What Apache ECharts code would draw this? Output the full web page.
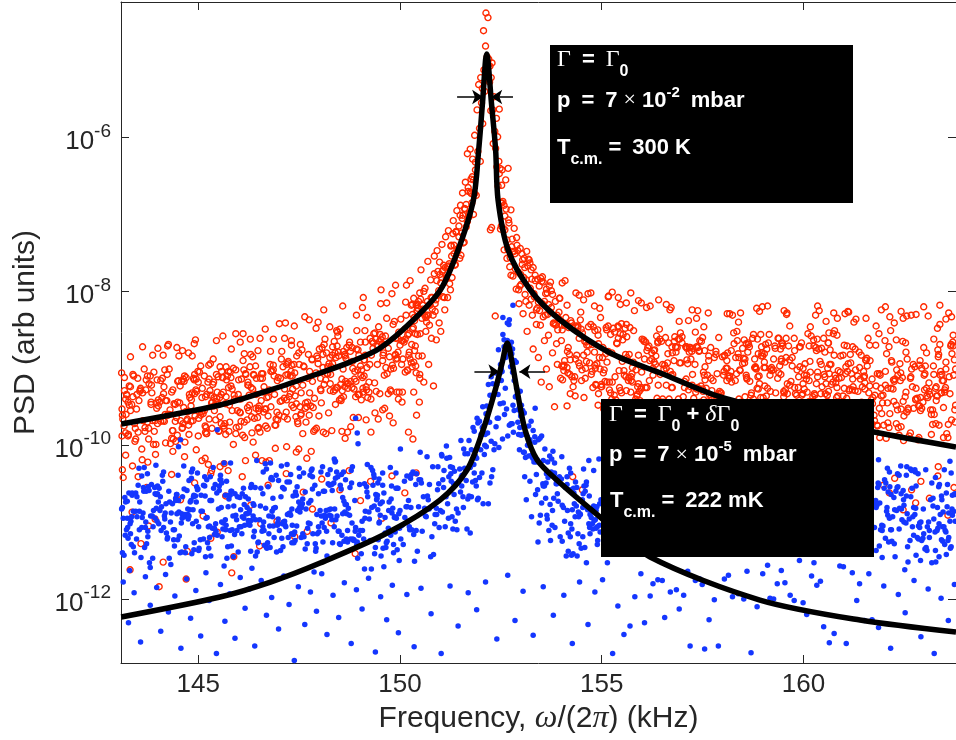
<!DOCTYPE html>
<html><head><meta charset="utf-8">
<script src="https://cdn.jsdelivr.net/npm/echarts@6/dist/echarts.min.js"></script>
<style>html,body{margin:0;padding:0;background:#fff}#c{width:956px;height:740px}</style>
</head><body><div id="c"></div>
<script>
// ---------------- DATA ----------------
const freqRange = [143.085, 163.78];          // kHz
const psdExpRange = [-12.832, -4.237];        // log10 PSD at bottom / top of plot
const yTickExps = [-12, -10, -8, -6];
const xTickLabels = [145, 150, 155, 160];

// Fitted curves: [frequency kHz, log10 PSD]
const redFit = [[143.09,-9.724],[145.54,-9.477],[146.79,-9.28],[148.02,-9.061],[148.76,-8.92],[149.51,-8.736],[150.33,-8.372],[151.00,-7.982],[151.44,-7.462],[151.82,-6.810],[151.95,-6.161],[152.05,-5.511],[152.12,-4.991],[152.15,-4.913],[152.18,-4.991],[152.26,-5.511],[152.37,-6.161],[152.43,-6.810],[152.68,-7.462],[153.23,-7.982],[153.97,-8.372],[155.21,-8.801],[156.45,-9.061],[157.94,-9.373],[159.90,-9.62],[161.75,-9.828],[163.78,-10.023]];
const blueFit = [[143.09,-12.234],[145.54,-11.974],[146.79,-11.78],[148.02,-11.532],[149.68,-11.142],[150.99,-10.713],[151.66,-10.322],[152.06,-9.802],[152.36,-9.282],[152.53,-8.931],[152.66,-8.671],[152.78,-8.931],[152.90,-9.282],[153.10,-9.802],[153.40,-10.192],[153.97,-10.492],[154.96,-10.934],[156.20,-11.454],[158.92,-12.013],[161.40,-12.273],[163.78,-12.429]];

// FWHM arrows: [fromFreq, toFreq, log10 PSD]
const fwhmArrows = [[151.415,152.06,-5.472],[152.80,152.26,-5.472],[151.844,152.464,-9.044],[153.596,152.959,-9.044]];

// p = 7e-2 mbar (red circles): [frequency kHz, log10 PSD]
const redLeft = [[143.10,-9.06],[143.11,-9.53],[143.12,-9.61],[143.13,-9.66],[143.16,-9.75],[143.17,-9.29],[143.20,-9.40],[143.21,-9.60],[143.22,-9.34],[143.23,-9.35],[143.26,-9.44],[143.27,-9.86],[143.29,-9.23],[143.32,-9.24],[143.35,-9.47],[143.38,-9.37],[143.40,-9.10],[143.42,-9.72],[143.43,-9.95],[143.45,-9.92],[143.47,-9.53],[143.48,-9.34],[143.51,-9.83],[143.53,-9.42],[143.55,-9.30],[143.57,-9.26],[143.60,-10.05],[143.63,-9.68],[143.66,-9.01],[143.68,-9.82],[143.70,-9.28],[143.71,-9.15],[143.74,-9.10],[143.77,-9.92],[143.78,-9.20],[143.81,-9.10],[143.83,-9.47],[143.84,-9.22],[143.85,-9.32],[143.87,-9.68],[143.90,-9.05],[143.91,-9.82],[143.93,-9.68],[143.96,-9.45],[143.97,-9.52],[143.98,-9.15],[143.99,-9.72],[144.01,-9.41],[144.04,-9.44],[144.07,-9.16],[144.10,-9.38],[144.11,-9.13],[144.14,-9.33],[144.15,-9.24],[144.17,-9.02],[144.18,-9.60],[144.19,-9.97],[144.22,-9.42],[144.23,-9.08],[144.25,-9.61],[144.28,-9.60],[144.30,-9.54],[144.31,-9.98],[144.34,-9.91],[144.36,-9.81],[144.37,-9.28],[144.38,-9.92],[144.40,-9.46],[144.43,-9.69],[144.44,-9.95],[144.46,-9.64],[144.48,-9.87],[144.49,-9.44],[144.51,-9.16],[144.54,-9.45],[144.56,-9.68],[144.59,-9.17],[144.60,-9.78],[144.62,-9.72],[144.63,-9.14],[144.65,-9.17],[144.66,-9.10],[144.67,-9.96],[144.70,-9.12],[144.72,-9.68],[144.75,-9.56],[144.77,-9.86],[144.78,-9.34],[144.79,-9.38],[144.82,-9.49],[144.83,-9.41],[144.85,-9.32],[144.87,-9.68],[144.90,-9.15],[144.91,-9.33],[144.92,-9.62],[144.95,-9.14],[144.96,-9.30],[144.99,-9.04],
[145.00,-9.18],[145.01,-9.65],[145.03,-9.57],[145.06,-8.97],[145.08,-9.57],[145.10,-9.26],[145.12,-9.59],[145.15,-9.10],[145.17,-9.75],[145.18,-9.37],[145.19,-9.77],[145.20,-9.85],[145.21,-9.85],[145.24,-9.18],[145.26,-8.96],[145.27,-9.66],[145.29,-9.29],[145.31,-9.35],[145.34,-9.78],[145.35,-9.44],[145.36,-9.21],[145.37,-8.88],[145.38,-9.18],[145.39,-9.38],[145.40,-9.55],[145.43,-9.67],[145.44,-9.43],[145.46,-9.39],[145.47,-9.31],[145.49,-9.11],[145.51,-9.82],[145.52,-9.81],[145.53,-9.38],[145.54,-9.63],[145.57,-9.34],[145.58,-9.04],[145.61,-9.12],[145.62,-9.31],[145.64,-9.78],[145.67,-9.46],[145.68,-9.86],[145.69,-8.98],[145.70,-9.15],[145.72,-9.10],[145.75,-9.25],[145.76,-9.82],[145.77,-9.48],[145.78,-9.70],[145.79,-9.05],[145.81,-9.12],[145.84,-9.55],[145.87,-9.00],[145.89,-9.35],[145.90,-9.40],[145.93,-9.85],[145.94,-9.77],[145.97,-9.55],[146.00,-9.15],[146.01,-9.76],[146.03,-9.57],[146.04,-9.58],[146.06,-9.69],[146.07,-9.14],[146.10,-9.87],[146.13,-9.02],[146.14,-8.81],[146.15,-9.90],[146.18,-9.08],[146.21,-9.67],[146.22,-9.51],[146.23,-9.18],[146.24,-9.22],[146.25,-9.55],[146.27,-9.48],[146.28,-8.98],[146.30,-8.82],[146.31,-9.25],[146.33,-9.84],[146.35,-9.27],[146.37,-9.08],[146.39,-9.65],[146.42,-8.97],[146.43,-9.52],[146.44,-9.13],[146.47,-9.64],[146.48,-9.78],[146.49,-9.52],[146.50,-9.55],[146.51,-9.49],[146.54,-9.13],[146.57,-9.07],[146.59,-9.13],[146.60,-9.07],[146.62,-9.57],[146.63,-9.24],[146.65,-9.53],[146.67,-9.75],[146.70,-9.38],[146.73,-9.62],[146.76,-9.28],[146.78,-8.95],[146.79,-8.78],[146.80,-9.50],[146.83,-9.04],[146.86,-9.02],[146.88,-9.10],[146.89,-9.34],[146.90,-9.74],[146.93,-9.66],[146.95,-9.57],[146.96,-9.16],[146.97,-9.67],
[147.00,-9.61],[147.03,-9.43],[147.06,-8.88],[147.07,-9.42],[147.10,-8.98],[147.13,-9.39],[147.14,-9.27],[147.17,-9.09],[147.18,-9.57],[147.19,-8.95],[147.21,-9.66],[147.22,-9.08],[147.23,-8.91],[147.25,-9.37],[147.28,-9.33],[147.30,-9.04],[147.31,-8.70],[147.32,-9.48],[147.33,-9.10],[147.36,-9.51],[147.39,-9.06],[147.42,-9.63],[147.43,-9.23],[147.44,-8.84],[147.47,-9.72],[147.49,-8.80],[147.50,-8.95],[147.53,-8.69],[147.54,-9.61],[147.55,-9.59],[147.57,-8.76],[147.59,-9.22],[147.62,-8.98],[147.65,-9.52],[147.66,-9.45],[147.69,-9.50],[147.71,-9.44],[147.72,-9.13],[147.75,-9.61],[147.76,-9.32],[147.79,-9.49],[147.82,-8.88],[147.83,-9.17],[147.86,-9.82],[147.89,-9.80],[147.92,-9.06],[147.93,-9.78],[147.96,-8.87],[147.99,-9.62],
[148.00,-8.75],[148.03,-9.27],[148.04,-9.29],[148.05,-9.45],[148.07,-8.73],[148.09,-8.99],[148.12,-9.21],[148.14,-8.62],[148.16,-9.15],[148.19,-9.07],[148.21,-8.98],[148.23,-9.58],[148.26,-8.86],[148.27,-9.20],[148.28,-9.08],[148.29,-8.98],[148.32,-8.83],[148.33,-8.94],[148.35,-9.30],[148.37,-8.65],[148.39,-8.80],[148.40,-9.47],[148.41,-8.86],[148.44,-8.71],[148.45,-8.53],[148.46,-8.58],[148.47,-8.79],[148.50,-9.41],[148.53,-9.21],[148.54,-9.42],[148.56,-9.14],[148.59,-9.01],[148.60,-8.78],[148.63,-8.82],[148.64,-8.84],[148.65,-9.17],[148.68,-8.73],[148.71,-9.26],[148.74,-8.70],[148.77,-8.78],[148.78,-9.17],[148.81,-8.73],[148.82,-8.91],[148.83,-9.00],[148.86,-9.27],[148.88,-9.04],[148.91,-9.17],[148.92,-8.75],[148.95,-9.02],[148.96,-9.34],[148.97,-9.34],[148.98,-8.83],[148.99,-9.34],
[149.02,-8.97],[149.03,-9.09],[149.04,-9.41],[149.07,-9.12],[149.08,-9.31],[149.11,-9.10],[149.12,-8.89],[149.13,-8.51],[149.14,-8.66],[149.16,-9.24],[149.18,-8.99],[149.19,-8.34],[149.20,-9.38],[149.23,-9.31],[149.25,-8.95],[149.26,-8.61],[149.28,-9.40],[149.31,-8.65],[149.33,-8.74],[149.34,-8.67],[149.37,-9.19],[149.40,-8.62],[149.41,-9.30],[149.44,-8.95],[149.47,-8.46],[149.49,-8.65],[149.51,-8.56],[149.52,-8.62],[149.55,-8.69],[149.56,-8.59],[149.57,-8.90],[149.58,-8.83],[149.61,-9.09],[149.64,-8.58],[149.67,-8.35],[149.68,-9.07],[149.71,-9.33],[149.74,-8.85],[149.76,-9.28],[149.78,-9.30],[149.81,-8.96],[149.84,-9.00],[149.86,-8.39],[149.88,-8.83],[149.89,-8.61],[149.90,-8.88],[149.93,-8.87],[149.95,-8.79],[149.96,-8.62],[149.97,-8.53],
[150.00,-8.70],[150.02,-8.36],[150.04,-8.64],[150.07,-8.64],[150.10,-8.66],[150.12,-8.49],[150.13,-9.05],[150.14,-8.14],[150.15,-8.31],[150.18,-9.02],[150.19,-9.03],[150.22,-8.55],[150.23,-8.79],[150.25,-8.88],[150.28,-8.18],[150.29,-8.69],[150.30,-8.98],[150.31,-8.49],[150.33,-8.47],[150.35,-8.34],[150.36,-8.77],[150.38,-8.71],[150.39,-8.97],[150.42,-8.25],[150.43,-8.56],[150.46,-8.84],[150.49,-9.08]];
const redPeak = [[150.50,-8.55],[150.52,-7.72],[150.55,-8.84],[150.57,-8.18],[150.59,-9.18],[150.62,-7.96],[150.64,-8.52],[150.66,-8.31],[150.69,-7.61],[150.71,-8.95],[150.73,-8.44],[150.76,-7.85],[150.78,-8.61],[150.80,-8.08],[150.83,-9.23],[150.85,-7.54],[150.87,-8.26],[150.90,-8.63],[150.92,-7.47],[150.94,-8.05],[150.97,-8.41],[150.99,-7.78],[151.01,-8.52],[151.04,-7.39],[151.06,-8.07],[151.08,-7.66],[151.11,-8.24],[151.13,-7.29],[151.15,-7.82],[151.18,-8.08],[151.20,-7.21],[151.22,-7.64],[151.25,-7.98],[151.27,-7.40],[151.29,-7.82],[151.32,-7.08],[151.34,-7.51],[151.36,-7.66],[151.39,-7.23],[151.41,-6.95],[151.43,-7.48],[151.46,-7.15],[151.48,-7.57],[151.50,-6.88],[151.53,-7.24],[151.55,-6.72],[151.57,-7.37],[151.60,-6.92],[151.62,-6.58],[151.64,-7.16],[151.67,-6.21],[151.69,-6.70],[151.71,-7.00],[151.74,-6.15],[151.76,-6.54],[151.78,-6.85],
[151.80,-6.28],[151.82,-6.55],[151.85,-5.97],[151.87,-6.42],[151.89,-6.75],[151.91,-5.64],[151.93,-6.18],[151.95,-5.31],[151.97,-5.88],[151.99,-6.31],[152.00,-5.22],[152.02,-5.55],[152.04,-5.36],[152.05,-5.82],[152.07,-4.61],[152.08,-5.12],[152.10,-5.40],[152.12,-4.81],[152.13,-4.38],[152.14,-5.13],[152.16,-4.95],[152.18,-4.44],[152.19,-5.06],[152.20,-4.98],[152.22,-5.28],[152.23,-5.07],[152.24,-7.20],[152.25,-5.65],[152.26,-5.22],[152.27,-7.17],[152.28,-5.03],[152.30,-5.64],[152.31,-6.08],[152.33,-5.47],[152.35,-5.92],[152.36,-8.32],[152.37,-6.14],[152.39,-5.75],[152.40,-6.38],[152.42,-5.99],[152.43,-6.63],[152.45,-6.31],[152.46,-5.63],[152.48,-6.40],[152.50,-6.85],[152.52,-6.62],[152.53,-6.42],[152.56,-7.18],[152.58,-6.88],[152.60,-7.20],[152.62,-6.55],[152.65,-7.33],[152.68,-6.40],[152.70,-7.11],[152.73,-7.56],[152.75,-6.94],[152.78,-7.32],[152.80,-7.80],[152.83,-7.18],[152.85,-7.51],[152.88,-7.97],[152.90,-7.40],[152.93,-7.75],[152.95,-8.16],[152.98,-7.44],[153.00,-7.91],[153.03,-7.65],[153.05,-8.29],[153.08,-7.57],[153.10,-8.04],[153.13,-7.85],[153.15,-8.52],[153.18,-7.58],[153.20,-8.18],[153.23,-7.96],[153.25,-7.72],[153.28,-8.31],[153.30,-8.75],[153.33,-8.07],[153.35,-7.79],[153.38,-8.43],[153.40,-8.22],[153.43,-8.86],[153.45,-7.93],[153.48,-8.44],[153.50,-9.18],[153.53,-8.16],[153.55,-7.88],[153.58,-8.64],[153.60,-8.31],[153.63,-9.01],[153.65,-8.02],[153.68,-8.57],[153.70,-9.24],[153.73,-8.27],[153.75,-7.99],[153.78,-8.80],[153.80,-8.42],[153.83,-9.50],[153.85,-8.13],[153.88,-8.68],[153.90,-8.95],[153.93,-8.35],[153.95,-8.09],[153.98,-9.13]];
const redArms = [[150.31,-8.17],[150.34,-8.09],[150.36,-8.38],[150.38,-8.55],[150.40,-8.18],[150.42,-8.17],[150.44,-8.22],[150.46,-8.13],[150.49,-8.02],[150.51,-8.10],[150.54,-8.35],[150.56,-8.23],[150.59,-8.00],[150.61,-8.31],[150.64,-8.34],[150.66,-8.40],[150.68,-8.13],[150.70,-8.31],[150.72,-8.18],[150.75,-8.18],[150.77,-8.08],[150.80,-8.23],[150.82,-8.31],[150.85,-7.77],[150.87,-8.16],[150.89,-8.11],[150.91,-7.86],[150.94,-7.74],[150.96,-7.99],[150.98,-7.62],[151.01,-7.89],[151.03,-7.82],[151.05,-7.74],[151.07,-7.72],[151.10,-8.08],[151.12,-7.69],[151.15,-7.83],[151.18,-7.68],[151.21,-7.67],[151.23,-7.90],[151.26,-7.41],[151.28,-7.54],[151.31,-7.25],[151.34,-7.40],[151.37,-7.65],[151.39,-7.22],[151.41,-7.46],[151.44,-7.44],[151.46,-7.29],[151.49,-7.01],[151.51,-7.53],[151.54,-7.05],[151.56,-7.01],[151.59,-7.36],[151.61,-6.93],[151.64,-6.87],[151.67,-7.09],[151.69,-6.65],[151.71,-7.03],[151.74,-6.71],[151.77,-6.73],[151.79,-6.51],[151.82,-7.00],[151.85,-6.73],[151.87,-6.32],
[152.46,-6.47],[152.49,-7.19],[152.51,-7.15],[152.53,-6.85],[152.55,-6.83],[152.58,-7.46],[152.60,-7.02],[152.63,-6.93],[152.65,-7.57],[152.67,-7.45],[152.69,-7.07],[152.72,-7.68],[152.75,-7.79],[152.77,-7.42],[152.80,-7.48],[152.83,-7.48],[152.86,-7.71],[152.89,-7.30],[152.92,-7.47],[152.94,-7.98],[152.97,-7.93],[152.99,-7.78],[153.02,-7.51],[153.04,-7.59],[153.07,-7.82],[153.09,-7.69],[153.12,-8.13],[153.14,-7.48],[153.17,-7.67],[153.20,-7.59],[153.22,-7.63],[153.25,-8.10],[153.27,-7.84],[153.30,-7.69],[153.32,-8.03],[153.35,-7.86],[153.38,-8.24],[153.41,-7.84],[153.43,-8.14],[153.46,-8.25],[153.49,-7.83],[153.51,-7.87],[153.53,-7.81],[153.55,-8.33],[153.58,-8.13],[153.61,-8.03],[153.63,-7.97],[153.66,-8.30],[153.68,-8.17],[153.70,-7.93],[153.73,-7.88],[153.75,-8.21],[153.78,-8.04],[153.81,-8.41],[153.84,-8.42],[153.86,-8.44],[153.89,-8.31],[153.91,-8.50],[153.94,-8.27],[153.96,-8.09]];
const redRight = [[154.00,-8.64],[154.01,-8.97],[154.02,-8.44],[154.03,-9.15],[154.06,-9.03],[154.07,-8.96],[154.08,-8.44],[154.10,-8.42],[154.11,-8.34],[154.14,-8.18],[154.15,-8.78],[154.16,-9.06],[154.18,-8.47],[154.21,-9.08],[154.22,-8.89],[154.23,-8.38],[154.25,-8.41],[154.28,-8.47],[154.31,-9.16],[154.33,-9.11],[154.35,-8.45],[154.38,-8.83],[154.41,-8.47],[154.43,-8.93],[154.44,-8.61],[154.45,-8.97],[154.48,-8.27],[154.49,-8.49],[154.51,-9.02],[154.52,-8.54],[154.55,-8.83],[154.58,-8.65],[154.59,-9.13],[154.60,-9.00],[154.61,-8.66],[154.63,-8.70],[154.64,-8.79],[154.67,-8.46],[154.70,-8.93],[154.73,-8.43],[154.76,-9.04],[154.78,-9.25],[154.79,-8.46],[154.82,-8.79],[154.83,-8.96],[154.84,-9.00],[154.85,-9.21],[154.88,-8.94],[154.90,-8.50],[154.91,-8.57],[154.92,-8.68],[154.94,-8.86],[154.95,-8.22],[154.96,-9.01],[154.97,-8.34],[154.99,-9.21],
[155.00,-9.24],[155.02,-8.86],[155.03,-8.73],[155.06,-9.02],[155.08,-9.17],[155.11,-8.47],[155.12,-8.50],[155.13,-9.18],[155.16,-8.78],[155.19,-9.18],[155.22,-8.56],[155.25,-8.80],[155.26,-9.18],[155.29,-8.48],[155.32,-8.53],[155.33,-9.11],[155.35,-9.41],[155.38,-8.68],[155.41,-8.61],[155.42,-8.46],[155.43,-9.03],[155.44,-9.25],[155.46,-9.29],[155.49,-8.42],[155.51,-8.91],[155.53,-8.56],[155.56,-9.09],[155.59,-8.82],[155.60,-9.11],[155.61,-8.43],[155.62,-8.59],[155.63,-8.86],[155.66,-9.16],[155.68,-8.82],[155.70,-8.47],[155.72,-9.31],[155.73,-9.11],[155.75,-9.07],[155.76,-9.18],[155.78,-8.92],[155.81,-9.44],[155.84,-9.40],[155.87,-9.36],[155.89,-9.24],[155.91,-8.83],[155.93,-9.30],[155.95,-9.42],[155.98,-9.25],[155.99,-9.05],
[156.01,-9.46],[156.04,-8.63],[156.05,-8.65],[156.08,-9.25],[156.09,-8.66],[156.12,-9.25],[156.14,-8.73],[156.17,-8.71],[156.19,-8.90],[156.21,-9.57],[156.24,-8.80],[156.27,-9.09],[156.29,-8.77],[156.30,-8.92],[156.31,-8.76],[156.34,-8.84],[156.37,-9.39],[156.39,-8.65],[156.40,-9.22],[156.43,-8.49],[156.44,-8.62],[156.45,-9.08],[156.48,-9.44],[156.51,-8.95],[156.54,-9.01],[156.56,-8.96],[156.58,-8.60],[156.60,-9.22],[156.61,-9.51],[156.64,-8.81],[156.67,-9.40],[156.70,-9.04],[156.73,-9.25],[156.74,-8.72],[156.75,-8.80],[156.76,-9.08],[156.79,-8.90],[156.80,-8.65],[156.83,-8.72],[156.84,-8.79],[156.87,-8.73],[156.90,-8.62],[156.93,-8.93],[156.95,-8.54],[156.96,-8.93],[156.99,-8.59],[157.02,-9.37],[157.05,-9.25],[157.08,-8.72],[157.09,-9.14],[157.10,-8.72],[157.11,-8.89],[157.13,-8.94],[157.15,-9.28],[157.17,-8.79],[157.19,-8.73],[157.20,-9.24],[157.21,-8.88],[157.24,-9.22],[157.25,-9.08],[157.28,-9.39],[157.31,-8.95],[157.33,-9.31],[157.35,-8.72],[157.36,-9.27],[157.38,-9.25],[157.41,-8.78],[157.42,-8.77],[157.43,-8.64],[157.46,-9.23],[157.47,-8.65],[157.48,-9.51],[157.50,-8.60],[157.51,-9.30],[157.52,-9.05],[157.53,-8.46],[157.54,-9.09],[157.55,-8.77],[157.56,-9.15],[157.59,-9.44],[157.62,-9.09],[157.65,-8.84],[157.67,-9.34],[157.70,-8.73],[157.71,-9.38],[157.73,-9.29],[157.76,-9.16],[157.79,-8.86],[157.80,-9.45],[157.83,-8.78],[157.86,-9.07],[157.89,-9.33],[157.90,-8.60],[157.92,-9.30],[157.94,-9.32],[157.96,-9.32],[157.99,-8.85],
[158.02,-9.09],[158.03,-9.04],[158.05,-8.83],[158.08,-9.00],[158.10,-8.90],[158.11,-9.00],[158.12,-8.80],[158.14,-9.60],[158.17,-9.10],[158.20,-9.04],[158.21,-8.77],[158.22,-9.18],[158.24,-9.44],[158.27,-8.54],[158.28,-9.61],[158.31,-9.16],[158.32,-8.86],[158.35,-8.52],[158.36,-8.64],[158.37,-9.47],[158.38,-8.81],[158.40,-8.86],[158.42,-9.02],[158.45,-9.44],[158.46,-9.50],[158.49,-8.74],[158.51,-8.87],[158.53,-8.63],[158.54,-8.93],[158.55,-9.37],[158.58,-8.68],[158.59,-9.12],[158.60,-9.14],[158.62,-8.79],[158.63,-8.67],[158.64,-8.69],[158.66,-8.72],[158.67,-9.17],[158.68,-9.52],[158.71,-9.32],[158.74,-8.61],[158.76,-9.40],[158.79,-8.99],[158.81,-8.98],[158.83,-9.01],[158.86,-8.62],[158.87,-9.11],[158.88,-9.27],[158.90,-9.10],[158.91,-9.20],[158.94,-8.56],[158.95,-8.84],[158.96,-8.72],[158.99,-8.84],[159.02,-8.99],[159.03,-8.92],[159.04,-9.23],[159.05,-8.99],[159.06,-8.69],[159.08,-9.36],[159.11,-9.26],[159.13,-8.67],[159.14,-9.53],[159.17,-9.09],[159.18,-9.30],[159.21,-8.99],[159.23,-9.54],[159.25,-9.02],[159.26,-8.88],[159.29,-8.71],[159.31,-9.32],[159.34,-9.57],[159.37,-8.61],[159.39,-8.61],[159.41,-8.97],[159.43,-8.75],[159.44,-9.08],[159.45,-8.91],[159.46,-8.67],[159.48,-8.68],[159.51,-9.30],[159.52,-9.32],[159.55,-9.28],[159.57,-8.86],[159.60,-9.33],[159.63,-8.71],[159.66,-9.22],[159.69,-9.17],[159.70,-9.45],[159.72,-8.97],[159.74,-9.58],[159.77,-8.61],[159.78,-8.77],[159.80,-9.33],[159.83,-9.35],[159.86,-9.47],[159.87,-9.25],[159.88,-9.11],[159.91,-8.98],[159.92,-8.72],[159.95,-8.67],[159.98,-9.33],[159.99,-9.00],
[160.02,-9.09],[160.04,-8.94],[160.07,-9.14],[160.08,-9.09],[160.09,-9.31],[160.11,-8.55],[160.12,-9.44],[160.14,-8.71],[160.15,-9.43],[160.16,-8.91],[160.19,-8.58],[160.21,-9.48],[160.23,-9.43],[160.25,-8.63],[160.27,-9.33],[160.28,-9.35],[160.31,-8.73],[160.32,-9.20],[160.34,-8.62],[160.35,-9.11],[160.38,-8.75],[160.41,-9.51],[160.43,-9.33],[160.44,-8.95],[160.45,-8.74],[160.46,-9.24],[160.48,-9.54],[160.51,-9.08],[160.53,-9.11],[160.54,-9.33],[160.56,-9.45],[160.59,-9.43],[160.60,-9.00],[160.61,-8.67],[160.62,-9.30],[160.63,-8.54],[160.64,-9.07],[160.65,-8.95],[160.66,-8.76],[160.69,-9.21],[160.72,-9.47],[160.73,-9.18],[160.75,-9.45],[160.76,-8.83],[160.78,-9.09],[160.80,-9.19],[160.82,-9.38],[160.83,-8.57],[160.85,-9.36],[160.88,-9.13],[160.91,-9.05],[160.94,-9.12],[160.95,-9.54],[160.98,-8.83],[161.01,-9.26],[161.04,-9.07],[161.05,-8.98],[161.08,-8.71],[161.09,-9.04],[161.11,-8.94],[161.14,-9.27],[161.16,-8.82],[161.17,-8.93],[161.18,-9.49],[161.21,-9.28],[161.22,-9.14],[161.23,-9.24],[161.26,-9.57],[161.28,-8.75],[161.29,-9.02],[161.32,-9.64],[161.35,-9.30],[161.38,-8.79],[161.39,-8.99],[161.41,-9.14],[161.43,-8.83],[161.44,-9.44],[161.47,-9.48],[161.50,-9.12],[161.51,-9.10],[161.52,-9.19],[161.54,-8.89],[161.57,-8.87],[161.58,-8.97],[161.60,-8.61],[161.62,-9.32],[161.64,-9.23],[161.65,-8.90],[161.68,-9.41],[161.71,-9.46],[161.72,-9.38],
[161.75,-9.61],[161.77,-9.35],[161.79,-8.70],[161.80,-9.23],[161.83,-9.07],[161.84,-9.75],[161.87,-8.55],[161.88,-9.07],[161.90,-9.09],[161.92,-9.26],[161.93,-9.36],[161.96,-9.45],[161.99,-9.74],[162.02,-8.64],[162.03,-9.22],[162.05,-9.91],[162.08,-9.45],[162.09,-9.71],[162.12,-8.72],[162.14,-9.59],[162.16,-8.51],[162.17,-9.26],[162.19,-8.92],[162.22,-9.27],[162.23,-9.15],[162.25,-9.17],[162.27,-9.14],[162.30,-9.48],[162.31,-9.02],[162.34,-9.09],[162.35,-9.77],[162.37,-9.87],[162.40,-9.16],[162.41,-9.06],[162.42,-9.53],[162.45,-9.12],[162.46,-8.65],[162.47,-9.43],[162.49,-9.62],[162.52,-9.37],[162.53,-8.67],[162.54,-8.79],[162.56,-9.57],[162.59,-9.52],[162.62,-9.88],[162.65,-9.13],[162.68,-9.01],[162.70,-9.24],[162.73,-9.52],[162.76,-8.98],[162.78,-9.40],[162.79,-9.26],[162.82,-9.39],[162.85,-9.49],[162.87,-8.96],[162.88,-9.49],[162.89,-8.90],[162.90,-9.38],[162.93,-9.52],[162.96,-9.44],[162.98,-8.73],[163.00,-9.28],[163.01,-9.07],[163.02,-8.97],[163.05,-8.80],[163.06,-9.36],[163.08,-9.38],[163.11,-9.19],[163.13,-9.34],[163.15,-9.54],[163.17,-9.86],[163.20,-9.54],[163.22,-8.97],[163.23,-8.62],[163.24,-9.60],[163.27,-9.26],[163.29,-9.24],[163.30,-9.36],[163.32,-9.36],[163.33,-8.76],[163.34,-8.85],[163.36,-9.74],[163.39,-9.09],[163.40,-9.04],[163.42,-9.32],[163.43,-9.08],[163.44,-9.16],[163.47,-9.51],[163.50,-9.28],[163.52,-9.25],[163.53,-8.92],[163.55,-9.85],[163.58,-9.90],[163.61,-9.11],[163.63,-9.33],[163.66,-8.69],[163.67,-9.67],[163.70,-8.66],[163.71,-8.57],[163.72,-9.09],[163.75,-9.54],[163.77,-9.48]];
const redExtra = [[143.11,-9.88],[143.17,-9.12],[143.20,-9.84],[143.26,-9.88],[143.29,-9.48],[143.32,-9.55],[143.38,-9.08],[143.44,-9.78],[143.50,-9.13],[143.56,-9.28],[143.62,-9.32],[143.68,-9.77],[143.74,-9.70],[143.77,-9.78],[143.83,-9.44],[143.89,-9.99],[143.95,-9.99],[144.01,-9.49],[144.07,-9.69],[144.13,-9.68],[144.16,-9.69],[144.19,-9.42],[144.25,-9.60],[144.28,-9.01],[144.34,-9.31],[144.37,-9.81],[144.43,-9.47],[144.49,-9.17],[144.55,-9.23],[144.61,-9.77],[144.64,-9.51],[144.70,-9.56],[144.73,-9.66],[144.76,-9.74],[144.82,-9.69],[144.88,-9.13],[144.91,-9.08],[144.94,-9.28],[145.00,-9.88],[145.03,-9.05],[145.06,-9.61],[145.09,-9.38],[145.15,-9.55],[145.18,-9.83],[145.21,-9.34],[145.27,-9.14],[145.30,-8.94],[145.33,-9.45],[145.39,-9.49],[145.45,-9.08],[145.51,-9.47],[145.54,-8.98],[145.57,-9.72],[145.60,-9.12],[145.63,-9.75],[145.66,-9.72],[145.69,-9.37],[145.75,-9.04],[145.81,-9.23],[145.84,-9.27],[145.87,-9.99],[145.93,-9.02],[145.99,-9.34],[146.05,-9.40],[146.11,-8.90],[146.14,-9.70],[146.17,-9.07],[146.23,-9.22],[146.26,-9.35],[146.32,-9.63],[146.35,-8.85],[146.38,-9.09],[146.44,-9.34],[146.50,-9.77],[146.53,-9.83],[146.56,-9.42],[146.62,-9.31],[146.68,-9.53],[146.71,-9.78],[146.74,-9.37],[146.80,-9.04],[146.86,-8.96],[146.92,-9.74],[146.98,-9.12],[147.04,-9.13],[147.07,-8.78],[147.13,-9.63],[147.19,-9.41],[147.22,-8.93],[147.28,-9.10],[147.31,-8.96],[147.34,-9.27],[147.37,-8.95],[147.40,-9.36],[147.43,-9.46],[147.46,-9.69],[147.52,-9.50],[147.55,-9.32],[147.61,-8.97],[147.67,-9.70],[147.73,-8.82],[147.76,-9.04],[147.82,-8.89],[147.85,-9.51],[147.88,-9.39],[147.94,-8.84],[147.97,-8.94],[148.03,-9.13],[148.09,-8.82],[148.12,-8.69],[148.18,-8.80],[148.21,-9.07],[148.24,-8.94],[148.27,-9.29],[148.33,-8.72],[148.39,-9.28],[148.42,-9.25],[148.45,-9.25],[148.48,-8.84],[148.51,-8.49],[148.54,-9.39],[148.57,-9.29],[148.60,-9.37],[148.63,-9.24],[148.66,-8.87],[148.69,-9.20],[148.72,-9.20],[148.75,-8.66],[148.81,-9.25],[148.87,-9.14],[148.90,-9.37],[148.93,-8.51],[148.96,-8.76],[149.02,-8.66],[149.05,-9.02],[149.08,-9.26],[149.11,-8.89],[149.14,-8.83],[149.17,-9.28],[149.23,-9.18],[149.29,-8.83],[149.35,-8.55],[149.38,-8.54],[149.44,-8.71],[149.50,-9.33],[149.56,-8.68],[149.59,-8.80],[149.65,-8.99],[149.71,-8.74],[149.77,-9.01],[149.83,-8.43],[149.89,-8.82],[149.92,-9.31],[149.98,-9.31],[150.04,-8.95],[150.07,-8.88],[150.13,-8.62],[150.19,-8.57],[150.22,-8.83],[150.28,-8.93],[150.31,-8.30],[150.34,-8.92],[150.40,-9.06],[150.43,-8.26],[150.49,-9.13],
[154.02,-8.50],[154.05,-8.98],[154.08,-8.90],[154.14,-8.99],[154.17,-8.73],[154.20,-8.82],[154.26,-9.11],[154.29,-9.24],[154.35,-8.88],[154.41,-8.45],[154.47,-8.37],[154.50,-9.16],[154.56,-9.38],[154.62,-8.91],[154.68,-8.70],[154.74,-9.08],[154.77,-8.69],[154.83,-8.51],[154.86,-9.22],[154.92,-9.33],[154.98,-9.24],[155.04,-9.06],[155.10,-8.81],[155.13,-8.92],[155.16,-8.45],[155.19,-9.28],[155.22,-9.32],[155.25,-9.40],[155.31,-9.35],[155.37,-8.67],[155.40,-8.45],[155.46,-8.55],[155.49,-9.32],[155.52,-8.63],[155.55,-9.03],[155.58,-8.48],[155.61,-9.29],[155.67,-9.12],[155.73,-9.16],[155.76,-8.99],[155.79,-8.51],[155.85,-9.02],[155.88,-9.34],[155.91,-9.20],[155.97,-9.27],[156.00,-8.62],[156.06,-8.88],[156.12,-8.77],[156.18,-9.16],[156.24,-8.88],[156.27,-9.00],[156.33,-8.95],[156.36,-8.58],[156.39,-8.67],[156.42,-9.43],[156.48,-8.65],[156.51,-9.40],[156.54,-9.44],[156.60,-9.00],[156.63,-8.93],[156.66,-8.67],[156.72,-9.09],[156.75,-9.25],[156.81,-8.59],[156.84,-8.72],[156.90,-9.40],[156.93,-8.62],[156.99,-8.67],[157.05,-9.17],[157.11,-8.74],[157.17,-8.73],[157.23,-8.78],[157.26,-8.74],[157.32,-8.53],[157.38,-8.73],[157.44,-9.44],[157.50,-9.27],[157.53,-9.41],[157.56,-8.98],[157.59,-9.26],[157.65,-8.90],[157.71,-9.13],[157.74,-9.41],[157.80,-9.38],[157.83,-8.82],[157.89,-9.36],[157.92,-9.42],[157.98,-9.56],[158.04,-8.84],[158.10,-9.16],[158.13,-9.10],[158.16,-9.13],[158.19,-9.54],[158.25,-9.46],[158.28,-8.68],[158.34,-9.07],[158.40,-9.40],[158.43,-9.03],[158.49,-8.94],[158.55,-8.88],[158.58,-9.09],[158.64,-9.48],[158.70,-9.35],[158.76,-8.56],[158.79,-8.88],[158.82,-9.00],[158.85,-9.26],[158.88,-8.81],[158.94,-9.38],[158.97,-8.80],[159.00,-9.38],[159.03,-8.81],[159.09,-8.75],[159.15,-8.56],[159.18,-9.01],[159.21,-9.03],[159.27,-9.55],[159.30,-8.74],[159.33,-9.47],[159.36,-9.13],[159.39,-9.06],[159.45,-8.88],[159.48,-8.71],[159.51,-9.37],[159.54,-8.92],[159.57,-8.61],[159.60,-9.20],[159.66,-8.89],[159.72,-8.86],[159.78,-9.25],[159.84,-9.02],[159.90,-8.72],[159.96,-9.35],[159.99,-9.20],[160.02,-9.27],[160.08,-9.49],[160.14,-9.16],[160.17,-9.05],[160.23,-9.37],[160.26,-8.71],[160.32,-8.77],[160.35,-9.05],[160.41,-8.91],[160.44,-9.50],[160.50,-8.61],[160.53,-8.79],[160.56,-9.20],[160.59,-9.35],[160.62,-8.67],[160.68,-8.95],[160.74,-8.55],[160.77,-8.51],[160.80,-9.13],[160.83,-9.25],[160.86,-9.03],[160.92,-8.84],[160.98,-9.36],[161.01,-8.70],[161.07,-9.39],[161.13,-9.29],[161.19,-9.07],[161.22,-8.72],[161.28,-9.29],[161.34,-9.10],[161.40,-9.47],[161.46,-9.24],[161.49,-9.04],[161.52,-9.27],[161.55,-8.90],[161.58,-9.56],[161.64,-8.70],[161.70,-9.14],[161.76,-9.68],[161.82,-9.74],[161.88,-9.52],[161.94,-9.59],[161.97,-9.35],[162.03,-9.04],[162.06,-8.81],[162.09,-9.26],[162.12,-9.77],[162.18,-8.90],[162.24,-9.43],[162.30,-8.63],[162.33,-9.54],[162.39,-8.94],[162.42,-9.76],[162.48,-9.94],[162.54,-9.31],[162.57,-8.88],[162.60,-9.54],[162.66,-9.11],[162.72,-8.95],[162.78,-9.41],[162.84,-9.93],[162.90,-9.55],[162.93,-9.00],[162.99,-9.09],[163.05,-9.26],[163.11,-9.30],[163.17,-9.60],[163.23,-9.08],[163.29,-9.42],[163.32,-8.48],[163.35,-8.82],[163.38,-8.69],[163.41,-9.32],[163.47,-9.16],[163.50,-9.31],[163.53,-9.01],[163.59,-9.73],[163.65,-8.71],[163.68,-8.81],[163.71,-8.71],[163.74,-8.89],[163.77,-9.01]];
const redTail = [[143.12,-10.32],[143.20,-10.13],[143.32,-8.85],[143.37,-10.27],[143.51,-10.41],[143.61,-10.19],[143.75,-10.22],[143.87,-8.83],[143.94,-10.12],[144.00,-8.74],[144.13,-8.83],[144.24,-8.71],[144.37,-10.08],[144.47,-8.73],[144.52,-8.84],[144.61,-8.77],[144.66,-10.15],[144.76,-8.80],[144.85,-8.84],[144.90,-8.68],[144.95,-10.06],[145.09,-10.20],[145.17,-10.17],[145.25,-10.25],[145.31,-10.37],[145.45,-8.64],[145.54,-10.28],[145.64,-10.24],[145.74,-10.33],[145.82,-8.75],[145.93,-8.55],[146.04,-8.66],[146.17,-10.20],[146.29,-8.62],[146.36,-9.96],[146.42,-10.13],[146.48,-8.77],[146.53,-8.61],[146.58,-10.20],[146.68,-10.22],[146.76,-10.20],[146.86,-8.62],[146.91,-10.04],[147.01,-8.42],[147.14,-8.61],[147.19,-10.02],[147.31,-8.64],[147.38,-8.45],[147.43,-10.09],[147.49,-10.05],[147.59,-9.85],[147.69,-10.17],[147.75,-8.37],[147.80,-10.08],[147.92,-8.48],[147.97,-8.40],[148.10,-9.83],[148.16,-9.85],[148.26,-8.46],[148.31,-9.81],[148.43,-8.51],[148.56,-9.82],[148.64,-9.91],[148.70,-9.83],[148.78,-9.76],[148.84,-9.64],[148.92,-8.31],[148.97,-9.64],[149.07,-8.21],[149.16,-9.67],[149.28,-9.83],[149.38,-9.58],[149.52,-8.16],[149.57,-9.54],[149.67,-8.15],[149.74,-9.62],[149.80,-8.03],[149.89,-7.92],[149.96,-9.40],[150.06,-9.31],[150.16,-7.92],[150.25,-7.86],[150.34,-9.31],[150.48,-9.44],
[154.02,-7.89],[154.09,-7.86],[154.14,-9.49],[154.22,-9.33],[154.34,-9.36],[154.44,-8.05],[154.55,-8.11],[154.66,-8.03],[154.73,-8.02],[154.82,-8.19],[154.91,-9.48],[155.05,-9.53],[155.17,-8.06],[155.26,-8.01],[155.33,-9.49],[155.41,-8.08],[155.46,-8.17],[155.51,-9.61],[155.61,-8.15],[155.66,-9.76],[155.72,-8.02],[155.81,-8.25],[155.86,-9.70],[155.92,-9.71],[155.98,-8.15],[156.11,-8.21],[156.20,-8.19],[156.27,-9.87],[156.41,-8.11],[156.54,-9.64],[156.60,-8.17],[156.69,-8.24],[156.80,-9.91],[156.92,-8.39],[157.03,-9.67],[157.09,-9.80],[157.15,-8.38],[157.24,-8.24],[157.35,-8.35],[157.40,-9.67],[157.52,-9.65],[157.64,-8.28],[157.71,-9.75],[157.77,-9.80],[157.89,-9.85],[157.97,-9.71],[158.11,-8.29],[158.24,-8.31],[158.29,-9.90],[158.39,-8.40],[158.44,-8.28],[158.57,-9.78],[158.63,-9.71],[158.75,-9.75],[158.83,-9.96],[158.91,-8.26],[158.98,-8.20],[159.11,-8.19],[159.22,-9.83],[159.30,-9.85],[159.42,-9.67],[159.52,-8.25],[159.59,-8.28],[159.66,-8.45],[159.79,-9.96],[159.93,-9.90],[160.01,-9.73],[160.07,-10.00],[160.17,-8.46],[160.30,-8.31],[160.39,-8.25],[160.48,-9.91],[160.56,-8.39],[160.67,-9.94],[160.75,-8.28],[160.84,-8.35],[160.91,-9.85],[161.03,-8.29],[161.10,-8.26],[161.19,-9.99],[161.25,-8.40],[161.30,-8.36],[161.41,-9.68],[161.55,-8.35],[161.68,-9.71],[161.80,-8.45],[161.89,-9.90],[162.03,-8.20],[162.14,-8.33],[162.25,-8.41],[162.30,-9.72],[162.42,-8.26],[162.47,-8.35],[162.56,-8.32],[162.65,-9.84],[162.79,-8.30],[162.86,-9.90],[162.98,-8.20],[163.09,-8.32],[163.20,-9.73],[163.28,-9.72],[163.38,-8.43],[163.47,-9.90],[163.53,-8.36],[163.60,-8.28],[163.67,-8.33],[163.76,-9.70]];
const redSparse = [[143.62,-8.72],[144.26,-8.69],[144.93,-8.63],[145.61,-8.58],[146.11,-8.55],[146.66,-8.49],[147.16,-8.41],[147.64,-8.33],[148.11,-8.24],[148.58,-8.19],[149.09,-8.08],[149.53,-7.98],[154.36,-8.02],[155.16,-8.07],[155.91,-8.12],[156.72,-8.21],[157.38,-8.25],[158.17,-8.29],[158.84,-8.22],[159.58,-8.30],[160.35,-8.19],[161.12,-8.27],[161.93,-8.24],[162.67,-8.31],[163.38,-8.18],
[143.14,-10.42],[143.36,-10.87],[143.58,-11.28],[143.72,-10.55],[143.93,-10.96],[144.13,-11.52],[144.34,-10.38],[144.56,-10.71],[144.70,-11.74],[144.91,-10.49],[145.12,-10.92],[145.33,-10.33],[145.47,-11.13],[145.68,-10.66],[145.88,-11.45],[146.09,-10.41],[146.30,-10.78],[146.52,-11.31],[146.73,-10.52],[146.95,-10.99],[147.18,-10.37],[147.39,-11.19],[147.60,-10.61],[147.83,-10.83],[148.06,-10.44],[148.29,-11.01],[148.51,-10.58],[148.74,-10.33],[149.02,-10.72],[149.27,-10.47],[149.55,-10.95],[149.80,-10.40],[150.12,-10.62],[150.40,-10.36],[143.31,-11.62],[143.77,-11.05],[144.03,-11.84],[144.73,-11.38],[145.31,-11.21],[145.83,-11.66],[146.55,-11.02],[147.70,-11.12],[148.89,-11.41],[149.62,-9.52],[149.83,-9.71],[150.05,-9.44],[150.21,-9.83],[150.41,-9.61],[149.46,-9.66],[150.32,-9.92],[154.28,-10.41],[154.52,-10.58],[161.98,-10.52],[162.26,-10.43],[162.47,-10.84],[162.68,-10.58],[162.91,-10.47],[163.12,-10.69],[163.33,-10.40],[163.58,-10.91],[163.73,-10.55],[162.13,-10.62],[162.78,-10.75],[163.34,-10.28]];

// p = 7e-5 mbar (blue dots): [frequency kHz, log10 PSD]
const blueLeft = [[143.10,-10.83],[143.12,-11.40],[143.14,-10.95],[143.16,-11.43],[143.19,-11.17],[143.20,-10.74],[143.22,-11.10],[143.24,-10.73],[143.25,-11.07],[143.26,-11.21],[143.28,-10.62],[143.31,-11.02],[143.32,-11.15],[143.33,-10.99],[143.34,-11.29],[143.35,-10.93],[143.36,-10.65],[143.39,-10.86],[143.42,-11.40],[143.45,-10.86],[143.47,-11.22],[143.48,-10.67],[143.51,-10.52],[143.53,-10.30],[143.54,-11.10],[143.55,-10.74],[143.58,-11.46],[143.60,-10.40],[143.61,-10.94],[143.64,-10.55],[143.65,-10.60],[143.66,-10.29],[143.67,-11.33],[143.70,-11.00],[143.71,-10.60],[143.72,-11.28],[143.74,-10.37],[143.75,-11.12],[143.76,-10.54],[143.78,-10.59],[143.79,-11.53],[143.82,-10.92],[143.84,-10.51],[143.86,-10.92],[143.88,-11.06],[143.89,-10.85],[143.92,-10.55],[143.93,-10.95],[143.95,-10.26],[143.96,-10.64],[143.98,-10.99],[143.99,-10.53],
[144.01,-10.74],[144.02,-11.02],[144.03,-10.56],[144.06,-10.67],[144.09,-10.80],[144.11,-10.39],[144.12,-10.47],[144.14,-11.07],[144.16,-10.92],[144.18,-10.88],[144.21,-11.14],[144.24,-11.20],[144.27,-10.60],[144.28,-11.47],[144.31,-11.00],[144.33,-10.88],[144.36,-10.76],[144.39,-11.23],[144.41,-11.31],[144.44,-10.69],[144.46,-10.64],[144.47,-10.64],[144.49,-11.23],[144.51,-10.72],[144.52,-10.87],[144.55,-11.40],[144.58,-11.01],[144.59,-10.89],[144.60,-10.95],[144.61,-10.67],[144.64,-10.27],[144.65,-10.93],[144.67,-10.90],[144.69,-11.32],[144.72,-10.59],[144.74,-10.90],[144.75,-10.96],[144.77,-10.46],[144.79,-10.84],[144.80,-10.74],[144.82,-10.72],[144.83,-10.43],[144.84,-11.41],[144.86,-10.31],[144.87,-10.84],[144.88,-10.67],[144.89,-10.65],[144.90,-11.27],[144.93,-10.66],[144.95,-10.99],[144.96,-10.54],[144.98,-10.36],[144.99,-10.57],
[145.01,-11.06],[145.02,-11.34],[145.05,-11.23],[145.07,-10.86],[145.10,-10.86],[145.13,-11.22],[145.16,-10.53],[145.17,-10.66],[145.18,-11.45],[145.21,-10.45],[145.22,-10.94],[145.23,-11.27],[145.26,-11.34],[145.28,-11.20],[145.29,-10.72],[145.30,-10.41],[145.31,-10.72],[145.33,-10.72],[145.35,-11.08],[145.38,-10.56],[145.40,-11.08],[145.42,-10.51],[145.43,-11.02],[145.44,-11.12],[145.47,-11.17],[145.50,-10.83],[145.52,-10.59],[145.54,-10.45],[145.56,-10.45],[145.57,-10.81],[145.58,-11.00],[145.59,-11.19],[145.62,-11.01],[145.64,-11.57],[145.67,-10.65],[145.68,-11.10],[145.69,-11.04],[145.70,-10.47],[145.71,-11.47],[145.74,-10.80],[145.76,-10.65],[145.79,-11.11],[145.80,-10.23],[145.81,-10.60],[145.83,-10.60],[145.84,-11.10],[145.86,-10.92],[145.87,-11.45],[145.90,-11.16],[145.93,-10.91],[145.95,-10.97],[145.96,-11.11],[145.99,-11.39],
[146.02,-11.06],[146.05,-10.84],[146.08,-11.15],[146.09,-10.93],[146.12,-10.56],[146.13,-10.95],[146.14,-10.77],[146.17,-10.67],[146.18,-10.89],[146.21,-10.81],[146.23,-11.03],[146.24,-10.98],[146.26,-10.88],[146.28,-11.04],[146.30,-10.55],[146.31,-10.98],[146.32,-10.51],[146.33,-11.60],[146.36,-10.76],[146.37,-11.19],[146.38,-10.78],[146.41,-10.55],[146.42,-11.44],[146.45,-10.20],[146.46,-11.39],[146.49,-11.26],[146.52,-10.97],[146.55,-10.56],[146.58,-11.12],[146.60,-10.63],[146.61,-10.35],[146.62,-11.00],[146.63,-11.11],[146.64,-11.30],[146.67,-10.82],[146.68,-11.32],[146.70,-11.34],[146.73,-10.54],[146.75,-11.15],[146.77,-11.05],[146.79,-10.23],[146.80,-10.44],[146.81,-10.42],[146.83,-10.86],[146.84,-10.45],[146.85,-10.69],[146.86,-11.05],[146.88,-11.20],[146.91,-10.81],[146.94,-11.39],[146.97,-11.01],[146.98,-10.96],
[147.01,-11.11],[147.04,-11.37],[147.06,-10.27],[147.07,-11.21],[147.09,-10.55],[147.10,-11.32],[147.13,-10.57],[147.15,-11.04],[147.17,-11.06],[147.20,-10.25],[147.21,-10.90],[147.24,-10.89],[147.26,-10.48],[147.27,-10.88],[147.29,-10.91],[147.31,-11.15],[147.32,-10.83],[147.33,-11.04],[147.36,-11.16],[147.37,-11.27],[147.39,-11.13],[147.40,-11.24],[147.43,-10.65],[147.45,-10.54],[147.46,-10.85],[147.49,-10.74],[147.50,-10.30],[147.51,-10.41],[147.52,-10.87],[147.55,-11.20],[147.58,-10.76],[147.59,-10.70],[147.61,-10.36],[147.62,-11.19],[147.65,-10.61],[147.67,-10.83],[147.70,-11.28],[147.73,-11.01],[147.74,-10.75],[147.77,-11.02],[147.79,-10.72],[147.82,-10.31],[147.83,-10.41],[147.84,-11.15],[147.87,-11.65],[147.90,-11.28],[147.91,-11.38],[147.94,-10.90],[147.95,-11.15],[147.98,-10.63],[147.99,-11.13],
[148.02,-10.85],[148.05,-10.92],[148.08,-10.28],[148.09,-11.26],[148.10,-10.60],[148.12,-11.07],[148.13,-10.60],[148.15,-10.95],[148.17,-10.85],[148.18,-11.12],[148.21,-10.38],[148.22,-10.50],[148.24,-10.84],[148.26,-10.52],[148.27,-10.32],[148.28,-10.83],[148.29,-10.92],[148.31,-10.97],[148.32,-10.59],[148.33,-11.27],[148.36,-10.49],[148.37,-11.06],[148.38,-10.83],[148.39,-10.22],[148.40,-10.21],[148.41,-10.97],[148.44,-10.92],[148.47,-11.12],[148.50,-11.28],[148.52,-11.29],[148.54,-10.57],[148.55,-10.38],[148.56,-11.17],[148.58,-10.68],[148.60,-10.35],[148.61,-11.25],[148.63,-10.87],[148.64,-10.77],[148.65,-10.45],[148.67,-11.22],[148.68,-10.89],[148.70,-11.26],[148.72,-10.82],[148.75,-10.91],[148.77,-11.22],[148.80,-10.49],[148.81,-11.01],[148.83,-11.22],[148.86,-11.23],[148.89,-11.12],[148.90,-11.07],[148.93,-11.29],[148.95,-11.47],[148.98,-11.17],
[149.01,-11.11],[149.04,-11.41],[149.07,-11.11],[149.10,-11.22],[149.12,-10.50],[149.13,-10.95],[149.14,-10.86],[149.17,-10.54],[149.19,-10.25],[149.20,-10.67],[149.23,-10.87],[149.26,-11.24],[149.28,-10.29],[149.29,-11.61],[149.32,-10.33],[149.33,-10.52],[149.35,-10.38],[149.36,-10.42],[149.37,-11.41],[149.40,-10.64],[149.42,-10.71],[149.43,-10.69],[149.44,-10.65],[149.45,-10.84],[149.46,-11.23],[149.48,-11.01],[149.49,-11.00],[149.51,-10.91],[149.53,-11.44],[149.56,-10.74],[149.57,-10.52],[149.58,-11.34],[149.60,-11.58],[149.63,-10.94],[149.65,-11.33],[149.68,-11.25],[149.71,-11.08],[149.73,-10.74],[149.76,-10.29],[149.77,-11.17],[149.79,-10.53],[149.80,-10.88],[149.82,-10.82],[149.84,-11.29],[149.86,-10.94],[149.87,-10.93],[149.88,-11.13],[149.90,-10.36],[149.91,-10.95],[149.93,-10.56],[149.95,-10.56],[149.97,-10.89],[149.98,-11.50],
[144.51,-10.02],[144.56,-9.93],[145.47,-9.80],[148.90,-9.65],[148.94,-9.84],[148.96,-9.98]];
const blueExtra = [[143.12,-10.81],[143.18,-10.68],[143.24,-10.95],[143.30,-11.63],[143.36,-10.62],[143.39,-11.32],[143.45,-10.62],[143.48,-10.93],[143.54,-10.86],[143.60,-11.07],[143.63,-10.88],[143.69,-11.07],[143.75,-11.19],[143.81,-11.59],[143.87,-11.47],[143.93,-10.63],[143.96,-10.82],[143.99,-10.63],[144.05,-10.85],[144.08,-11.11],[144.14,-10.35],[144.17,-10.96],[144.20,-10.76],[144.23,-11.22],[144.29,-10.74],[144.32,-11.55],[144.38,-11.10],[144.41,-11.10],[144.44,-10.72],[144.47,-10.89],[144.50,-10.39],[144.53,-11.18],[144.59,-11.39],[144.65,-10.57],[144.68,-11.40],[144.74,-10.83],[144.77,-10.92],[144.83,-10.35],[144.86,-11.02],[144.89,-11.36],[144.95,-10.74],[144.98,-10.58],[145.01,-11.37],[145.07,-10.65],[145.13,-10.52],[145.16,-10.41],[145.19,-10.95],[145.25,-11.06],[145.28,-11.05],[145.31,-11.44],[145.37,-10.29],[145.40,-11.16],[145.46,-10.62],[145.52,-10.53],[145.55,-10.39],[145.58,-10.49],[145.61,-11.09],[145.64,-10.23],[145.67,-10.97],[145.73,-11.32],[145.76,-10.70],[145.79,-10.65],[145.82,-11.31],[145.88,-10.79],[145.91,-10.63],[145.97,-10.67],[146.03,-10.68],[146.06,-11.06],[146.09,-10.63],[146.15,-11.04],[146.21,-10.89],[146.24,-10.70],[146.27,-10.85],[146.30,-11.38],[146.36,-10.92],[146.39,-11.12],[146.42,-10.97],[146.48,-11.27],[146.54,-10.79],[146.60,-11.06],[146.66,-10.24],[146.69,-10.31],[146.72,-11.27],[146.75,-10.92],[146.78,-11.33],[146.84,-10.93],[146.87,-10.82],[146.93,-10.39],[146.96,-11.04],[146.99,-10.46],[147.05,-10.67],[147.08,-11.02],[147.11,-11.00],[147.14,-10.99],[147.20,-10.48],[147.23,-11.20],[147.29,-10.38],[147.32,-11.27],[147.35,-10.66],[147.41,-10.61],[147.44,-11.05],[147.50,-10.82],[147.53,-10.78],[147.56,-10.81],[147.59,-11.15],[147.65,-11.35],[147.71,-11.08],[147.77,-10.39],[147.80,-10.33],[147.83,-10.57],[147.89,-10.52],[147.92,-11.34],[147.98,-11.06],[148.04,-10.35],[148.07,-11.01],[148.13,-10.91],[148.19,-11.44],[148.25,-10.91],[148.31,-10.51],[148.37,-10.18],[148.40,-10.43],[148.43,-10.35],[148.46,-10.41],[148.49,-11.12],[148.52,-10.52],[148.58,-10.89],[148.61,-10.73],[148.67,-10.77],[148.70,-11.11],[148.76,-10.55],[148.79,-10.33],[148.82,-10.28],[148.85,-11.24],[148.88,-10.72],[148.94,-11.26],[149.00,-10.51],[149.06,-10.99],[149.12,-11.61],[149.18,-10.61],[149.24,-10.96],[149.30,-10.81],[149.36,-10.79],[149.39,-11.33],[149.45,-10.49],[149.48,-10.44],[149.51,-10.76],[149.57,-10.36],[149.60,-10.62],[149.63,-11.14],[149.66,-11.27],[149.72,-10.85],[149.78,-10.70],[149.84,-11.40],[149.90,-10.56],[149.93,-11.36],[149.99,-11.08],
[154.02,-10.78],[154.08,-10.99],[154.14,-10.51],[154.17,-11.14],[154.23,-10.36],[154.26,-11.09],[154.29,-11.41],[154.35,-10.48],[154.38,-10.55],[154.41,-11.15],[154.44,-11.28],[154.47,-10.90],[154.53,-10.81],[154.59,-10.60],[154.62,-10.48],[154.68,-11.02],[154.71,-10.90],[154.77,-10.84],[154.80,-10.79],[154.86,-10.85],[154.89,-11.29],[154.95,-10.76],
[161.77,-10.77],[161.80,-11.37],[161.86,-10.19],[161.89,-10.75],[161.95,-11.46],[162.01,-10.45],[162.04,-10.49],[162.07,-10.81],[162.13,-10.35],[162.16,-11.10],[162.19,-11.25],[162.25,-11.28],[162.31,-10.85],[162.37,-11.09],[162.43,-10.83],[162.49,-11.00],[162.55,-10.66],[162.58,-11.32],[162.64,-11.24],[162.70,-11.06],[162.73,-10.81],[162.76,-10.32],[162.79,-10.53],[162.85,-11.05],[162.88,-11.07],[162.91,-11.00],[162.97,-10.83],[163.03,-10.32],[163.06,-11.37],[163.12,-11.11],[163.18,-10.49],[163.21,-10.69],[163.27,-11.37],[163.33,-11.08],[163.36,-11.45],[163.42,-10.66],[163.45,-11.25],[163.51,-11.11],[163.54,-10.62],[163.60,-11.20],[163.63,-10.21],[163.66,-10.36],[163.69,-10.91],[163.75,-10.64]];
const bluePeak = [[150.00,-10.85],[150.01,-10.05],[150.02,-11.22],[150.05,-11.04],[150.08,-11.29],[150.11,-10.47],[150.12,-10.94],[150.15,-10.80],[150.17,-10.40],[150.18,-10.80],[150.20,-10.99],[150.21,-10.72],[150.23,-11.06],[150.24,-11.10],[150.26,-10.43],[150.27,-10.81],[150.28,-10.38],[150.29,-11.10],[150.32,-10.35],[150.34,-11.16],[150.36,-11.51],[150.39,-10.51],[150.40,-11.11],[150.41,-10.37],[150.43,-11.38],[150.46,-10.80],[150.47,-10.45],[150.50,-10.09],[150.51,-10.45],[150.53,-10.49],[150.55,-11.12],[150.58,-10.67],[150.61,-10.82],[150.63,-10.92],[150.65,-10.93],[150.67,-10.15],[150.68,-10.66],[150.70,-10.71],[150.72,-10.83],[150.73,-10.51],[150.76,-11.45],[150.79,-11.19],[150.81,-10.28],[150.83,-11.42],[150.86,-11.02],[150.87,-10.90],[150.90,-10.82],[150.91,-10.90],[150.93,-10.58],[150.94,-10.28],[150.96,-10.50],[150.97,-11.07],
[151.00,-10.85],[151.03,-10.12],[151.04,-10.14],[151.05,-10.87],[151.06,-10.45],[151.08,-10.55],[151.09,-10.33],[151.12,-11.06],[151.14,-10.67],[151.15,-10.01],[151.16,-10.17],[151.18,-10.76],[151.20,-10.95],[151.21,-10.41],[151.23,-10.16],[151.25,-10.28],[151.26,-10.37],[151.27,-10.47],[151.29,-10.93],[151.30,-10.29],[151.31,-11.09],[151.33,-10.50],[151.34,-10.64],[151.35,-10.34],[151.37,-10.99],[151.40,-10.83],[151.41,-11.10],[151.44,-10.88],[151.45,-10.49],[151.48,-10.31],[151.51,-9.94],[151.52,-10.41],[151.53,-10.53],[151.56,-10.67],[151.57,-10.81],[151.60,-10.30],[151.63,-10.33],[151.66,-11.09],[151.68,-10.70],[151.71,-10.66],[151.74,-11.14],[151.77,-10.67],[151.80,-10.48],[151.83,-10.25],[151.84,-10.36],[151.87,-10.46],[151.89,-10.53],[151.91,-9.65],[151.92,-10.71],[151.94,-10.69],[151.97,-10.42],
[152.00,-10.06],[152.03,-10.36],[152.05,-9.50],[152.06,-10.76],[152.09,-10.12],[152.10,-10.00],[152.13,-9.59],[152.14,-10.02],[152.16,-9.66],[152.17,-9.84],[152.19,-10.76],[152.22,-9.70],[152.23,-10.49],[152.26,-9.95],[152.27,-10.41],[152.30,-10.32],[152.33,-10.06],[152.35,-9.98],[152.38,-9.76],[152.41,-9.65],[152.43,-9.34],[152.44,-9.65],[152.45,-10.03],[152.48,-9.46],[152.51,-9.16],[152.53,-9.04],[152.54,-9.92],[152.56,-9.45],[152.59,-9.60],[152.61,-9.26],[152.64,-9.53],[152.67,-9.88],[152.70,-8.69],[152.71,-9.74],[152.74,-8.98],[152.75,-9.72],[152.77,-8.81],[152.78,-9.72],[152.79,-9.05],[152.80,-9.48],[152.81,-9.83],[152.83,-9.55],[152.86,-9.37],[152.88,-8.92],[152.89,-9.26],[152.92,-9.70],[152.94,-9.86],[152.96,-10.06],[152.97,-9.77],[152.98,-9.30],[152.99,-9.62],
[153.00,-9.87],[153.01,-9.48],[153.03,-9.86],[153.06,-10.09],[153.08,-10.09],[153.09,-10.41],[153.11,-10.16],[153.13,-10.71],[153.16,-10.00],[153.19,-10.14],[153.22,-10.47],[153.25,-9.69],[153.26,-10.93],[153.29,-10.17],[153.30,-10.15],[153.32,-10.22],[153.34,-9.96],[153.35,-9.52],[153.36,-10.64],[153.38,-10.38],[153.41,-10.58],[153.42,-11.26],[153.45,-11.01],[153.48,-10.91],[153.51,-10.75],[153.54,-10.50],[153.55,-10.53],[153.58,-10.53],[153.61,-10.69],[153.62,-10.49],[153.64,-10.91],[153.65,-10.96],[153.66,-10.22],[153.69,-11.11],[153.72,-10.77],[153.73,-11.24],[153.76,-10.18],[153.77,-11.04],[153.78,-10.85],[153.81,-10.69],[153.82,-10.38],[153.83,-10.23],[153.84,-11.07],[153.87,-10.45],[153.89,-10.50],[153.92,-10.73],[153.95,-10.41],[153.97,-11.19],
[152.55,-8.34],[152.71,-8.37],[152.80,-8.18],[152.58,-8.72],[152.62,-8.86],[152.66,-8.64],[152.73,-8.78],[152.49,-8.95],[152.84,-8.90]];
const blueArms = [[151.50,-10.61],[151.54,-10.39],[151.58,-10.05],[151.61,-10.11],[151.64,-10.46],[151.68,-10.11],[151.71,-9.94],[151.74,-10.29],[151.77,-10.06],[151.81,-9.77],[151.84,-9.82],[151.87,-10.14],[151.90,-10.17],[151.93,-9.71],[151.97,-9.69],[152.01,-9.86],[152.04,-9.77],[152.07,-9.75],[152.11,-9.86],[152.15,-9.49],[152.19,-9.21],[152.23,-9.35],[152.26,-9.11],[152.30,-9.20],[152.34,-9.32],[152.37,-9.06],[152.40,-9.21],[152.44,-8.76],[152.48,-9.06],[152.51,-9.01],[152.55,-8.56],[152.58,-8.63],[152.62,-8.83],[152.66,-8.41],[152.70,-8.43],[152.73,-8.72],[152.76,-8.66],[152.79,-8.75],[152.83,-9.16],[152.87,-9.37],[152.90,-9.35],[152.93,-9.54],[152.96,-9.51],[153.00,-9.58],[153.04,-9.55],[153.08,-9.58],[153.12,-9.86],[153.16,-9.89],[153.19,-9.75],[153.22,-9.93],[153.26,-10.13],[153.30,-9.81],[153.34,-9.89],[153.37,-10.22],[153.40,-10.19],[153.43,-9.93],[153.47,-9.91],[153.51,-9.88],[153.55,-10.20],[153.59,-10.05],[153.63,-10.37],[153.67,-10.42],[153.71,-10.14],[153.75,-10.35],[153.79,-10.08],[153.83,-10.36],[153.87,-10.50],[153.90,-10.63],[153.94,-10.48]];
const blueRight = [[154.00,-10.44],[154.01,-10.15],[154.02,-11.25],[154.05,-10.81],[154.08,-10.53],[154.10,-10.55],[154.12,-11.44],[154.14,-10.41],[154.15,-10.85],[154.17,-11.38],[154.20,-10.30],[154.21,-10.58],[154.22,-11.19],[154.23,-11.02],[154.25,-11.43],[154.27,-10.84],[154.30,-10.56],[154.31,-10.62],[154.32,-10.76],[154.34,-10.93],[154.37,-10.79],[154.39,-11.44],[154.42,-10.87],[154.43,-10.93],[154.46,-10.89],[154.49,-11.34],[154.52,-10.71],[154.53,-11.19],[154.54,-10.63],[154.55,-10.31],[154.56,-10.53],[154.58,-11.33],[154.61,-10.52],[154.62,-11.53],[154.65,-10.84],[154.68,-10.20],[154.69,-10.66],[154.70,-11.07],[154.71,-11.15],[154.74,-10.94],[154.77,-11.02],[154.78,-11.09],[154.80,-10.33],[154.81,-10.98],[154.84,-10.97],[154.86,-11.08],[154.88,-10.80],[154.89,-11.06],[154.90,-11.24],[154.93,-10.18],[154.94,-11.04],[154.96,-11.13],[154.98,-10.71],
[161.76,-11.07],[161.79,-10.72],[161.80,-10.81],[161.82,-10.78],[161.84,-10.55],[161.85,-10.49],[161.87,-10.51],[161.88,-11.31],[161.91,-11.10],[161.94,-11.04],[161.95,-11.11],[161.97,-11.05],[162.00,-10.56],[162.03,-11.21],[162.06,-10.86],[162.08,-10.30],[162.09,-10.91],[162.10,-10.61],[162.11,-11.26],[162.13,-10.95],[162.14,-10.54],[162.17,-10.64],[162.18,-11.10],[162.21,-10.93],[162.24,-10.68],[162.26,-10.84],[162.27,-11.45],[162.29,-10.60],[162.32,-10.55],[162.33,-10.37],[162.34,-10.54],[162.37,-10.39],[162.38,-10.82],[162.41,-10.27],[162.42,-10.63],[162.44,-10.97],[162.47,-10.59],[162.48,-10.71],[162.49,-10.78],[162.51,-11.62],[162.54,-11.01],[162.55,-10.39],[162.56,-10.28],[162.57,-10.89],[162.59,-11.52],[162.62,-10.96],[162.65,-10.31],[162.66,-10.67],[162.68,-10.33],[162.69,-10.56],[162.71,-10.93],[162.73,-11.17],[162.76,-10.90],[162.77,-10.35],[162.78,-10.82],[162.79,-11.43],[162.82,-11.20],[162.84,-10.37],[162.85,-11.22],[162.88,-11.01],[162.90,-11.50],[162.93,-11.24],[162.96,-11.21],[162.98,-11.15],[163.01,-11.35],[163.04,-11.33],[163.07,-11.06],[163.10,-11.00],[163.12,-11.20],[163.15,-10.71],[163.18,-11.53],[163.21,-10.79],[163.23,-10.96],[163.26,-11.13],[163.27,-10.42],[163.28,-11.52],[163.31,-11.11],[163.32,-10.81],[163.35,-10.54],[163.36,-11.02],[163.37,-10.51],[163.39,-10.90],[163.42,-11.23],[163.43,-10.71],[163.45,-11.06],[163.46,-10.87],[163.48,-11.06],[163.49,-10.32],[163.50,-11.29],[163.53,-11.13],[163.54,-11.42],[163.56,-10.80],[163.57,-10.51],[163.58,-11.24],[163.60,-10.88],[163.63,-10.99],[163.64,-11.34],[163.66,-11.32],[163.68,-10.83],[163.69,-10.65],[163.72,-10.86],[163.75,-10.63],[163.76,-10.99]];
const blueBelowBox = [[155.02,-11.75],[155.14,-11.53],[155.27,-12.71],[155.40,-12.09],[155.55,-12.46],[155.70,-12.35],[155.82,-11.97],[155.97,-11.67],[156.06,-12.31],[156.20,-11.96],[156.27,-11.80],[156.39,-11.75],[156.50,-11.76],[156.56,-12.24],[156.70,-11.91],[156.85,-11.88],[156.92,-12.13],[157.03,-11.95],[157.13,-11.64],[157.19,-12.61],[157.32,-11.76],[157.43,-11.74],[157.49,-11.81],[157.55,-12.65],[157.66,-12.27],[157.79,-12.01],[157.89,-12.61],[158.04,-11.74],[158.14,-11.69],[158.24,-11.97],[158.38,-11.93],[158.52,-12.00],[158.60,-11.64],[158.70,-12.70],[158.85,-12.10],[158.99,-11.67],[159.11,-11.56],[159.17,-11.99],[159.26,-12.00],[159.35,-11.80],[159.45,-11.63],[159.54,-11.79],[159.67,-11.95],[159.77,-12.02],[159.90,-11.50],[159.99,-12.05],[160.08,-12.20],[160.20,-11.70],[160.26,-11.53],[160.33,-11.82],[160.42,-11.77],[160.50,-12.36],[160.64,-12.57],[160.76,-12.45],[160.90,-11.57],[160.99,-11.58],[161.06,-12.58],[161.21,-11.66],[161.32,-12.02],[161.39,-11.80],[161.51,-12.28],[161.62,-11.67],[161.70,-12.27]];
const blueSparse = [[143.14,-11.78],[143.27,-12.31],[143.41,-11.92],[143.57,-12.56],[143.69,-11.71],[143.81,-12.08],[143.97,-11.85],[144.07,-12.42],[144.19,-11.68],[144.26,-12.17],[144.42,-11.96],[144.57,-12.64],[144.71,-11.74],[144.81,-12.25],[144.94,-11.89],[145.06,-12.48],[145.19,-11.66],[145.27,-12.02],[145.45,-12.71],[145.55,-11.81],[145.66,-12.29],[145.78,-11.93],[145.91,-12.51],[146.04,-11.72],[146.16,-12.12],[146.27,-11.87],[146.40,-12.61],[146.56,-11.76],[146.69,-12.21],[146.82,-11.98],[146.99,-12.39],[147.12,-11.70],[147.25,-12.07],[147.38,-12.80],[147.48,-11.84],[147.64,-12.33],[147.78,-11.91],[147.93,-12.16],[148.06,-11.67],[148.19,-12.46],[148.34,-11.95],[148.48,-12.24],[148.62,-11.79],[148.79,-12.58],[148.92,-11.88],[149.06,-12.13],[149.22,-11.73],[149.39,-12.69],[149.52,-11.97],[149.67,-12.27],[149.81,-11.82],[149.96,-12.44],[150.17,-11.94],[150.35,-12.62],[150.52,-11.86],[150.77,-12.19],[151.02,-12.71],[151.24,-11.83],[151.44,-12.35],[151.69,-11.92],[151.90,-12.14],[152.12,-11.78],[152.40,-12.52],[152.67,-11.69],[152.85,-12.28],[153.05,-11.90],[153.30,-12.47],[153.55,-11.84],[153.80,-12.21],[154.06,-11.95],[154.27,-12.58],[154.45,-11.78],[154.66,-12.33],[154.83,-11.91],[161.86,-12.37],[161.99,-11.83],[162.16,-12.64],[162.35,-11.94],[162.52,-12.18],[162.74,-11.76],[162.91,-12.49],[163.09,-11.87],[163.24,-12.71],[163.41,-11.99],[163.59,-12.28],[163.74,-11.81]];

// ---------------- CHART ----------------
const SANS = '"Liberation Sans", Arial, Helvetica, sans-serif';
const SERIF = '"Liberation Serif", "Times New Roman", serif';
const INK = '#262626';
const toPSD = e => Math.pow(10, e);
const asPSD = arr => arr.map(p => [p[0], toPSD(p[1])]);

const redData = asPSD(redLeft.concat(redPeak, redArms, redRight, redExtra, redTail, redSparse));
const blueData = asPSD(blueLeft.concat(blueExtra, bluePeak, blueArms, blueRight, blueBelowBox, blueSparse));
const arrowLines = fwhmArrows.map(a => [{coord: [a[0], toPSD(a[2])]}, {coord: [a[1], toPSD(a[2])]}]);

const yLabel = v => {
  const l = Math.log10(v), e = Math.round(l);
  if (Math.abs(l - e) > 0.01 || yTickExps.indexOf(e) < 0) return '';
  return '{b|10}{s|' + e + '}';
};
const xLabel = v => {
  const r = Math.round(v);
  return (Math.abs(v - r) < 1e-6 && xTickLabels.indexOf(r) >= 0) ? String(r) : '';
};

const axisCommon = {
  axisLine: {show: true, onZero: false, lineStyle: {color: INK, width: 1}},
  axisTick: {show: true, inside: true, length: 8, lineStyle: {color: INK, width: 1}},
  splitLine: {show: false},
  minorTick: {show: false},
  minorSplitLine: {show: false}
};

const W = '#fff';
const boxRich = {
  m: {fill: W, fontFamily: SANS, fontWeight: 'bold', fontSize: 22, lineHeight: 48},
  e: {fill: W, fontFamily: SANS, fontWeight: 'bold', fontSize: 22, lineHeight: 48, padding: [0, 11, 0, 11]},
  e2: {fill: W, fontFamily: SANS, fontWeight: 'bold', fontSize: 22, lineHeight: 48, padding: [0, 11, 0, 6]},
  pl: {fill: W, fontFamily: SANS, fontWeight: 'bold', fontSize: 22, lineHeight: 48, padding: [0, 6, 0, 6]},
  mb: {fill: W, fontFamily: SANS, fontWeight: 'bold', fontSize: 22, lineHeight: 48, padding: [0, 0, 0, 11]},
  g: {fill: W, fontFamily: SERIF, fontSize: 24, lineHeight: 48},
  gi: {fill: W, fontFamily: SERIF, fontStyle: 'italic', fontSize: 24, lineHeight: 48},
  t: {fill: W, fontFamily: SERIF, fontSize: 22, lineHeight: 48, padding: [0, 6, 0, 6]},
  sub: {fill: W, fontFamily: SANS, fontWeight: 'bold', fontSize: 16, lineHeight: 48, height: 24, verticalAlign: 'bottom'},
  sup: {fill: W, fontFamily: SANS, fontWeight: 'bold', fontSize: 15, lineHeight: 48, height: 32, verticalAlign: 'top'}
};
const boxLine = (x, cy, text) => ({type: 'text', x: x, y: cy - 24, z: 101, silent: true,
  style: {text: text, rich: boxRich, align: 'left', verticalAlign: 'top', fill: W}});

const chart = echarts.init(document.getElementById('c'), null, {renderer: 'canvas'});
chart.setOption({
  animation: false,
  backgroundColor: '#fff',
  grid: {left: 121, right: 0, top: 2, bottom: 77, containLabel: false},
  xAxis: [
    Object.assign({type: 'value', min: freqRange[0], max: freqRange[1], position: 'bottom',
      name: 'Frequency, {w|ω}/(2{w|π}) (kHz)', nameLocation: 'middle', nameGap: 40,
      nameTextStyle: {fontFamily: SANS, fontSize: 30, color: INK,
        rich: {w: {fontFamily: SERIF, fontStyle: 'italic', fontSize: 32, color: INK}}},
      axisLabel: {show: true, margin: 9, fontFamily: SANS, fontSize: 26, color: INK,
        showMinLabel: false, showMaxLabel: false, formatter: xLabel}
    }, axisCommon),
    Object.assign({type: 'value', min: freqRange[0], max: freqRange[1], position: 'top',
      axisLabel: {show: false}}, axisCommon)
  ],
  yAxis: [
    Object.assign({type: 'log', logBase: 100, min: toPSD(psdExpRange[0]), max: toPSD(psdExpRange[1]), position: 'left',
      name: 'PSD (arb units)', nameLocation: 'middle', nameGap: 80,
      nameTextStyle: {fontFamily: SANS, fontSize: 30, color: INK},
      axisLabel: {show: true, margin: 10, showMinLabel: false, showMaxLabel: false, formatter: yLabel,
        rich: {
          b: {fontFamily: SANS, fontSize: 26, color: INK, lineHeight: 36, height: 27, verticalAlign: 'bottom'},
          s: {fontFamily: SANS, fontSize: 19, color: INK, lineHeight: 36, height: 24, verticalAlign: 'top'}
        }}
    }, axisCommon),
    Object.assign({type: 'log', logBase: 100, min: toPSD(psdExpRange[0]), max: toPSD(psdExpRange[1]), position: 'right',
      axisLabel: {show: false}}, axisCommon)
  ],
  series: [
    {type: 'scatter', name: 'p = 7e-2 mbar', data: redData, symbol: 'circle', symbolSize: 6, silent: true, z: 2,
      itemStyle: {color: 'rgba(0,0,0,0)', borderColor: '#ff2a00', borderWidth: 1.4, opacity: 1},
      emphasis: {disabled: true}},
    {type: 'scatter', name: 'p = 7e-5 mbar', data: blueData, symbol: 'circle', symbolSize: 5.5, silent: true, z: 3,
      itemStyle: {color: '#1436ff', opacity: 1}, emphasis: {disabled: true}},
    {type: 'line', name: 'fit 1', data: asPSD(redFit), showSymbol: false, smooth: 0.3, silent: true, z: 4,
      lineStyle: {color: '#000', width: 5.5}, emphasis: {disabled: true},
      markLine: {silent: true, symbol: ['none', 'arrow'], symbolSize: 11, animation: false,
        label: {show: false}, lineStyle: {color: '#000', width: 1.5, type: 'solid'},
        emphasis: {disabled: true}, data: arrowLines}},
    {type: 'line', name: 'fit 2', data: asPSD(blueFit), showSymbol: false, smooth: 0.3, silent: true, z: 4,
      lineStyle: {color: '#000', width: 5.5}, emphasis: {disabled: true}}
  ],
  graphic: [
    {type: 'rect', shape: {x: 550, y: 45, width: 303, height: 158}, style: {fill: '#000'}, z: 100, silent: true},
    boxLine(557, 59.5, '{g|Γ}{e|=}{g|Γ}{sub|0}'),
    boxLine(557, 100.5, '{m|p}{e|=}{m|7}{t|×}{m|10}{sup|-2}{mb|mbar}'),
    boxLine(557, 147.5, '{m|T}{sub|c.m.}{e2|=}{m|300 K}'),
    {type: 'rect', shape: {x: 601, y: 399, width: 273, height: 158}, style: {fill: '#000'}, z: 100, silent: true},
    boxLine(609, 414.5, '{g|Γ}{e|=}{g|Γ}{sub|0}{pl|+}{gi|δ}{g|Γ}{sub|0}'),
    boxLine(609, 455, '{m|p}{e|=}{m|7}{t|×}{m|10}{sup|-5}{mb|mbar}'),
    boxLine(610, 500.5, '{m|T}{sub|c.m.}{e2|=}{m|222 mK}')
  ]
});
</script>
</body></html>
